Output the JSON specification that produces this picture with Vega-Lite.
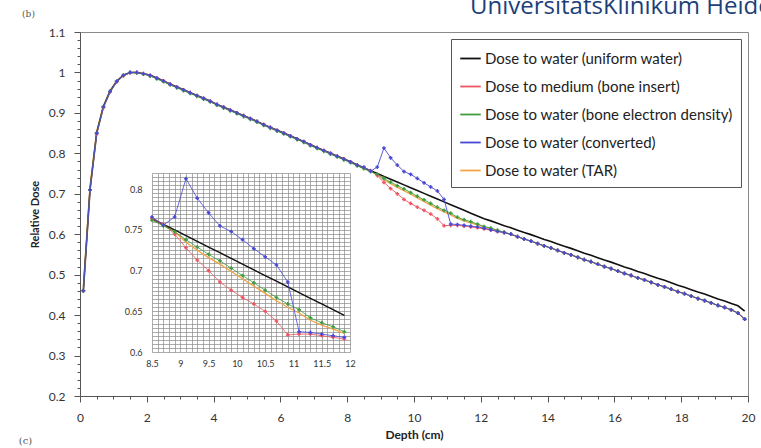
{
  "$schema": "https://vega.github.io/schema/vega-lite/v6.json",
  "width": 668,
  "height": 364,
  "autosize": {"type": "none"},
  "padding": {"left": 80, "top": 32, "right": 13, "bottom": 52},
  "background": "white",
  "title": {"text": "UniversitätsKlinikum Heidelberg", "anchor": "start", "frame": "group", "dx": 390, "offset": -29, "baseline": "alphabetic", "fontSize": 24, "font": "Open Sans", "fontWeight": "normal", "color": "#1c3f7c"},
  "data": {"values": [
    {"d":0.1,"w":0.46,"m":0.46,"e":0.46,"c":0.46,"t":0.47},
    {"d":0.3,"w":0.71,"m":0.71,"e":0.71,"c":0.71,"t":0.72},
    {"d":0.5,"w":0.85,"m":0.848,"e":0.85,"c":0.85,"t":0.855},
    {"d":0.7,"w":0.915,"m":0.913,"e":0.915,"c":0.915,"t":0.918},
    {"d":0.9,"w":0.953,"m":0.952,"e":0.953,"c":0.953,"t":0.955},
    {"d":1.1,"w":0.978,"m":0.977,"e":0.978,"c":0.978,"t":0.979},
    {"d":1.3,"w":0.993,"m":0.992,"e":0.993,"c":0.993,"t":0.993},
    {"d":1.5,"w":1.0,"m":0.999,"e":1.0,"c":1.0,"t":1.0},
    {"d":1.7,"w":1.0,"m":1.0,"e":0.999,"c":1.0,"t":1.0},
    {"d":1.9,"w":0.997,"m":0.997,"e":0.996,"c":0.997,"t":0.997},
    {"d":2.1,"w":0.993,"m":0.992,"e":0.991,"c":0.993,"t":0.993},
    {"d":2.3,"w":0.986,"m":0.986,"e":0.984,"c":0.986,"t":0.986},
    {"d":2.5,"w":0.979,"m":0.979,"e":0.977,"c":0.979,"t":0.979},
    {"d":2.7,"w":0.971,"m":0.971,"e":0.969,"c":0.971,"t":0.971},
    {"d":2.9,"w":0.964,"m":0.964,"e":0.962,"c":0.964,"t":0.964},
    {"d":3.1,"w":0.957,"m":0.957,"e":0.955,"c":0.957,"t":0.957},
    {"d":3.3,"w":0.950,"m":0.950,"e":0.948,"c":0.950,"t":0.950},
    {"d":3.5,"w":0.943,"m":0.943,"e":0.941,"c":0.943,"t":0.943},
    {"d":3.7,"w":0.936,"m":0.936,"e":0.934,"c":0.936,"t":0.936},
    {"d":3.9,"w":0.929,"m":0.929,"e":0.927,"c":0.929,"t":0.929},
    {"d":4.1,"w":0.921,"m":0.921,"e":0.919,"c":0.921,"t":0.921},
    {"d":4.3,"w":0.914,"m":0.914,"e":0.912,"c":0.914,"t":0.914},
    {"d":4.5,"w":0.907,"m":0.907,"e":0.905,"c":0.907,"t":0.907},
    {"d":4.7,"w":0.900,"m":0.900,"e":0.898,"c":0.900,"t":0.900},
    {"d":4.9,"w":0.893,"m":0.893,"e":0.891,"c":0.893,"t":0.893},
    {"d":5.1,"w":0.886,"m":0.886,"e":0.884,"c":0.886,"t":0.886},
    {"d":5.3,"w":0.879,"m":0.879,"e":0.877,"c":0.879,"t":0.879},
    {"d":5.5,"w":0.871,"m":0.871,"e":0.869,"c":0.871,"t":0.871},
    {"d":5.7,"w":0.864,"m":0.864,"e":0.862,"c":0.864,"t":0.864},
    {"d":5.9,"w":0.857,"m":0.857,"e":0.855,"c":0.857,"t":0.857},
    {"d":6.1,"w":0.850,"m":0.850,"e":0.848,"c":0.850,"t":0.850},
    {"d":6.3,"w":0.843,"m":0.843,"e":0.841,"c":0.843,"t":0.843},
    {"d":6.5,"w":0.836,"m":0.836,"e":0.834,"c":0.836,"t":0.836},
    {"d":6.7,"w":0.829,"m":0.829,"e":0.827,"c":0.829,"t":0.829},
    {"d":6.9,"w":0.821,"m":0.821,"e":0.819,"c":0.821,"t":0.821},
    {"d":7.1,"w":0.814,"m":0.814,"e":0.812,"c":0.814,"t":0.814},
    {"d":7.3,"w":0.807,"m":0.807,"e":0.805,"c":0.807,"t":0.807},
    {"d":7.5,"w":0.800,"m":0.800,"e":0.798,"c":0.800,"t":0.800},
    {"d":7.7,"w":0.793,"m":0.793,"e":0.791,"c":0.793,"t":0.793},
    {"d":7.9,"w":0.786,"m":0.786,"e":0.784,"c":0.786,"t":0.786},
    {"d":8.1,"w":0.779,"m":0.779,"e":0.777,"c":0.779,"t":0.779},
    {"d":8.3,"w":0.771,"m":0.771,"e":0.769,"c":0.771,"t":0.771},
    {"d":8.5,"w":0.764,"m":0.764,"e":0.762,"c":0.766,"t":0.763},
    {"d":8.7,"w":0.757,"m":0.757,"e":0.755,"c":0.756,"t":0.756},
    {"d":8.9,"w":0.750,"m":0.745,"e":0.748,"c":0.766,"t":0.748},
    {"d":9.1,"w":0.743,"m":0.728,"e":0.738,"c":0.813,"t":0.735},
    {"d":9.3,"w":0.736,"m":0.713,"e":0.729,"c":0.789,"t":0.725},
    {"d":9.5,"w":0.729,"m":0.700,"e":0.720,"c":0.771,"t":0.716},
    {"d":9.7,"w":0.722,"m":0.686,"e":0.712,"c":0.755,"t":0.708},
    {"d":9.9,"w":0.715,"m":0.676,"e":0.703,"c":0.748,"t":0.699},
    {"d":10.1,"w":0.708,"m":0.667,"e":0.694,"c":0.738,"t":0.690},
    {"d":10.3,"w":0.701,"m":0.659,"e":0.685,"c":0.727,"t":0.681},
    {"d":10.5,"w":0.694,"m":0.650,"e":0.676,"c":0.717,"t":0.672},
    {"d":10.7,"w":0.687,"m":0.638,"e":0.667,"c":0.707,"t":0.663},
    {"d":10.9,"w":0.680,"m":0.621,"e":0.659,"c":0.686,"t":0.655},
    {"d":11.1,"w":0.673,"m":0.622,"e":0.652,"c":0.625,"t":0.648},
    {"d":11.3,"w":0.666,"m":0.622,"e":0.642,"c":0.624,"t":0.639},
    {"d":11.5,"w":0.659,"m":0.620,"e":0.636,"c":0.622,"t":0.633},
    {"d":11.7,"w":0.652,"m":0.618,"e":0.631,"c":0.620,"t":0.628},
    {"d":11.9,"w":0.645,"m":0.616,"e":0.625,"c":0.618,"t":0.623},
    {"d":12.1,"w":0.638,"m":0.613,"e":0.619,"c":0.615,"t":0.618},
    {"d":12.3,"w":0.633,"m":0.610,"e":0.615,"c":0.611,"t":0.614},
    {"d":12.5,"w":0.627,"m":0.607,"e":0.610,"c":0.607,"t":0.609},
    {"d":12.7,"w":0.621,"m":0.604,"e":0.605,"c":0.604,"t":0.604},
    {"d":12.9,"w":0.616,"m":0.600,"e":0.600,"c":0.600,"t":0.600},
    {"d":13.1,"w":0.610,"m":0.594,"e":0.594,"c":0.594,"t":0.594},
    {"d":13.3,"w":0.604,"m":0.588,"e":0.588,"c":0.588,"t":0.588},
    {"d":13.5,"w":0.599,"m":0.583,"e":0.583,"c":0.583,"t":0.583},
    {"d":13.7,"w":0.593,"m":0.577,"e":0.577,"c":0.577,"t":0.577},
    {"d":13.9,"w":0.587,"m":0.571,"e":0.571,"c":0.571,"t":0.571},
    {"d":14.1,"w":0.582,"m":0.566,"e":0.566,"c":0.566,"t":0.566},
    {"d":14.3,"w":0.576,"m":0.560,"e":0.560,"c":0.560,"t":0.560},
    {"d":14.5,"w":0.570,"m":0.554,"e":0.554,"c":0.554,"t":0.554},
    {"d":14.7,"w":0.565,"m":0.549,"e":0.549,"c":0.549,"t":0.549},
    {"d":14.9,"w":0.559,"m":0.543,"e":0.543,"c":0.543,"t":0.543},
    {"d":15.1,"w":0.553,"m":0.537,"e":0.537,"c":0.537,"t":0.537},
    {"d":15.3,"w":0.548,"m":0.532,"e":0.532,"c":0.532,"t":0.532},
    {"d":15.5,"w":0.542,"m":0.526,"e":0.526,"c":0.526,"t":0.526},
    {"d":15.7,"w":0.536,"m":0.520,"e":0.520,"c":0.520,"t":0.520},
    {"d":15.9,"w":0.531,"m":0.515,"e":0.515,"c":0.515,"t":0.515},
    {"d":16.1,"w":0.525,"m":0.509,"e":0.509,"c":0.509,"t":0.509},
    {"d":16.3,"w":0.519,"m":0.503,"e":0.503,"c":0.503,"t":0.503},
    {"d":16.5,"w":0.514,"m":0.498,"e":0.498,"c":0.498,"t":0.498},
    {"d":16.7,"w":0.508,"m":0.492,"e":0.492,"c":0.492,"t":0.492},
    {"d":16.9,"w":0.503,"m":0.487,"e":0.487,"c":0.487,"t":0.487},
    {"d":17.1,"w":0.497,"m":0.481,"e":0.481,"c":0.481,"t":0.481},
    {"d":17.3,"w":0.491,"m":0.475,"e":0.475,"c":0.475,"t":0.475},
    {"d":17.5,"w":0.486,"m":0.470,"e":0.470,"c":0.470,"t":0.470},
    {"d":17.7,"w":0.480,"m":0.464,"e":0.464,"c":0.464,"t":0.464},
    {"d":17.9,"w":0.474,"m":0.458,"e":0.458,"c":0.458,"t":0.458},
    {"d":18.1,"w":0.469,"m":0.453,"e":0.453,"c":0.453,"t":0.453},
    {"d":18.3,"w":0.463,"m":0.447,"e":0.447,"c":0.447,"t":0.447},
    {"d":18.5,"w":0.457,"m":0.441,"e":0.441,"c":0.441,"t":0.441},
    {"d":18.7,"w":0.452,"m":0.436,"e":0.436,"c":0.436,"t":0.436},
    {"d":18.9,"w":0.446,"m":0.430,"e":0.430,"c":0.430,"t":0.430},
    {"d":19.1,"w":0.440,"m":0.424,"e":0.424,"c":0.424,"t":0.424},
    {"d":19.3,"w":0.435,"m":0.419,"e":0.419,"c":0.419,"t":0.419},
    {"d":19.5,"w":0.429,"m":0.413,"e":0.413,"c":0.413,"t":0.413},
    {"d":19.7,"w":0.423,"m":0.405,"e":0.405,"c":0.405,"t":0.405},
    {"d":19.9,"w":0.410,"m":0.390,"e":0.390,"c":0.390,"t":0.390}
  ]},
  "transform": [{"fold": ["w", "m", "e", "c", "t"], "as": ["k", "dose"]}],
  "layer": [
    {
      "encoding": {
        "x": {"field": "d", "type": "quantitative", "scale": {"domain": [0, 20], "nice": false, "zero": false},
          "axis": {"title": "Depth (cm)", "values": [0,0.5,1,1.5,2,2.5,3,3.5,4,4.5,5,5.5,6,6.5,7,7.5,8,8.5,9,9.5,10,10.5,11,11.5,12,12.5,13,13.5,14,14.5,15,15.5,16,16.5,17,17.5,18,18.5,19,19.5,20],
            "format": "~g", "labelExpr": "datum.value % 2 == 0 ? datum.label : ''", "labelOverlap": false, "labelFlush": false,
            "tickSize": {"condition": {"test": "datum.value % 2 == 0", "value": 6}, "value": 3}, "labelPadding": 10, "grid": false,
            "labelFontSize": 12, "titleFontSize": 12, "titlePadding": 6}},
        "y": {"field": "dose", "type": "quantitative", "scale": {"domain": [0.2, 1.1], "nice": false, "zero": false},
          "axis": {"title": "Relative Dose", "values": [0.2,0.22,0.24,0.26,0.28,0.3,0.32,0.34,0.36,0.38,0.4,0.42,0.44,0.46,0.48,0.5,0.52,0.54,0.56,0.58,0.6,0.62,0.64,0.66,0.68,0.7,0.72,0.74,0.76,0.78,0.8,0.82,0.84,0.86,0.88,0.9,0.92,0.94,0.96,0.98,1,1.02,1.04,1.06,1.08,1.1],
            "format": "~g", "labelExpr": "abs(datum.value*10 - round(datum.value*10)) < 0.000001 ? datum.label : ''", "labelOverlap": false, "labelFlush": false,
            "tickSize": {"condition": {"test": "abs(datum.value*10 - round(datum.value*10)) < 0.000001", "value": 6}, "value": 3}, "labelPadding": 9, "grid": false,
            "labelFontSize": 12, "titleFontSize": 11, "titlePadding": 8}},
        "color": {"field": "k", "type": "nominal",
          "scale": {"domain": ["w", "m", "e", "c", "t"], "range": ["#111111", "#ee5560", "#3f9c3f", "#4848d4", "#f3a445"]},
          "legend": {"title": null, "orient": "top-right", "offset": 7, "symbolType": "stroke", "symbolSize": 420, "symbolStrokeWidth": 1.8,
            "labelFont": "Lato", "labelFontSize": 15, "labelColor": "#222", "labelLimit": 320, "strokeColor": "#555", "fillColor": "white",
            "padding": 8, "rowPadding": 8, "labelOffset": 3,
            "labelExpr": "datum.label == 'w' ? 'Dose to water (uniform water)' : datum.label == 'm' ? 'Dose to medium (bone insert)' : datum.label == 'e' ? 'Dose to water (bone electron density)' : datum.label == 'c' ? 'Dose to water (converted)' : 'Dose to water (TAR)'"}}
      },
      "layer": [
        {"transform": [{"filter": "datum.k == 't'"}], "mark": {"type": "line", "strokeWidth": 1.4}},
        {"transform": [{"filter": "datum.k == 'w'"}], "mark": {"type": "line", "strokeWidth": 1.6}},
        {"transform": [{"filter": "datum.k == 'm' || datum.k == 'e' || datum.k == 'c'"}], "mark": {"type": "line", "strokeWidth": 0.9, "point": {"shape": "cross", "size": 14, "filled": true}}}
      ]
    },
    {
      "transform": [{"filter": "datum.d >= 8.5 && datum.d <= 12"}],
      "encoding": {
        "x": {"field": "d", "type": "quantitative", "scale": {"domain": [8.5, 12], "range": [72, 270], "nice": false, "zero": false}, "axis": null},
        "y": {"field": "dose", "type": "quantitative", "scale": {"domain": [0.6, 0.82], "range": [320, 141], "nice": false, "zero": false},
          "axis": {"orient": "left", "offset": -72, "grid": true, "ticks": false, "domain": false, "gridColor": "#8a8a8a", "gridWidth": 0.7,
            "title": "(b)", "titleX": -124, "titleY": -19, "titleAngle": 0, "titleAlign": "center", "titleBaseline": "middle", "titleFont": "DejaVu Serif", "titleFontSize": 9, "titleFontWeight": "normal", "titleColor": "#555",
            "values": [0.6,0.605,0.61,0.615,0.62,0.625,0.63,0.635,0.64,0.645,0.65,0.655,0.66,0.665,0.67,0.675,0.68,0.685,0.69,0.695,0.7,0.705,0.71,0.715,0.72,0.725,0.73,0.735,0.74,0.745,0.75,0.755,0.76,0.765,0.77,0.775,0.78,0.785,0.79,0.795,0.8,0.805,0.81,0.815,0.82],
            "format": "~g", "labelExpr": "abs(datum.value*20 - round(datum.value*20)) < 0.000001 && datum.value < 0.815 ? datum.label : ''", "labelOverlap": false, "labelFlush": false,
            "labelFontSize": 9, "labelPadding": 10}},
        "color": {"field": "k", "type": "nominal", "legend": null}
      },
      "layer": [
        {"transform": [{"filter": "datum.k == 't'"}], "mark": {"type": "line", "strokeWidth": 1.3},
          "encoding": {
            "x": {"field": "d", "type": "quantitative", "scale": {"domain": [8.5, 12], "range": [72, 270], "nice": false, "zero": false},
              "axis": {"orient": "top", "title": null, "grid": true, "labels": false, "ticks": false, "domain": false, "gridColor": "#8a8a8a", "gridWidth": 0.7,
                "values": [8.5,8.6,8.7,8.8,8.9,9,9.1,9.2,9.3,9.4,9.5,9.6,9.7,9.8,9.9,10,10.1,10.2,10.3,10.4,10.5,10.6,10.7,10.8,10.9,11,11.1,11.2,11.3,11.4,11.5,11.6,11.7,11.8,11.9,12]}}
          }},
        {"transform": [{"filter": "datum.k == 'w'"}], "mark": {"type": "line", "strokeWidth": 1.4},
          "encoding": {
            "x": {"field": "d", "type": "quantitative", "scale": {"domain": [8.5, 12], "range": [72, 270], "nice": false, "zero": false},
              "axis": {"orient": "bottom", "offset": -44, "grid": false, "ticks": false, "domain": false,
                "title": "(c)", "titleX": -55, "titleY": 88, "titleAngle": 0, "titleAlign": "center", "titleBaseline": "middle", "titleFont": "DejaVu Serif", "titleFontSize": 10, "titleFontWeight": "normal", "titleColor": "#555",
                "values": [8.5,9,9.5,10,10.5,11,11.5,12], "format": "~g", "labelOverlap": false, "labelFlush": false, "labelFontSize": 9, "labelPadding": 7}}
          }},
        {"transform": [{"filter": "datum.k == 'm' || datum.k == 'e' || datum.k == 'c'"}], "mark": {"type": "line", "strokeWidth": 0.8, "point": {"shape": "cross", "size": 14, "filled": true}}}
      ]
    }
  ],
  "resolve": {"scale": {"x": "independent", "y": "independent"}},
  "config": {
    "view": {"stroke": "#8a8a8a", "strokeWidth": 1},
    "axis": {"labelFont": "Lato", "titleFont": "Lato", "labelColor": "#333", "titleColor": "#222", "titleFontWeight": "bold", "domainColor": "#555", "tickColor": "#555"},
    "legend": {"labelFont": "Lato"}
  }
}
